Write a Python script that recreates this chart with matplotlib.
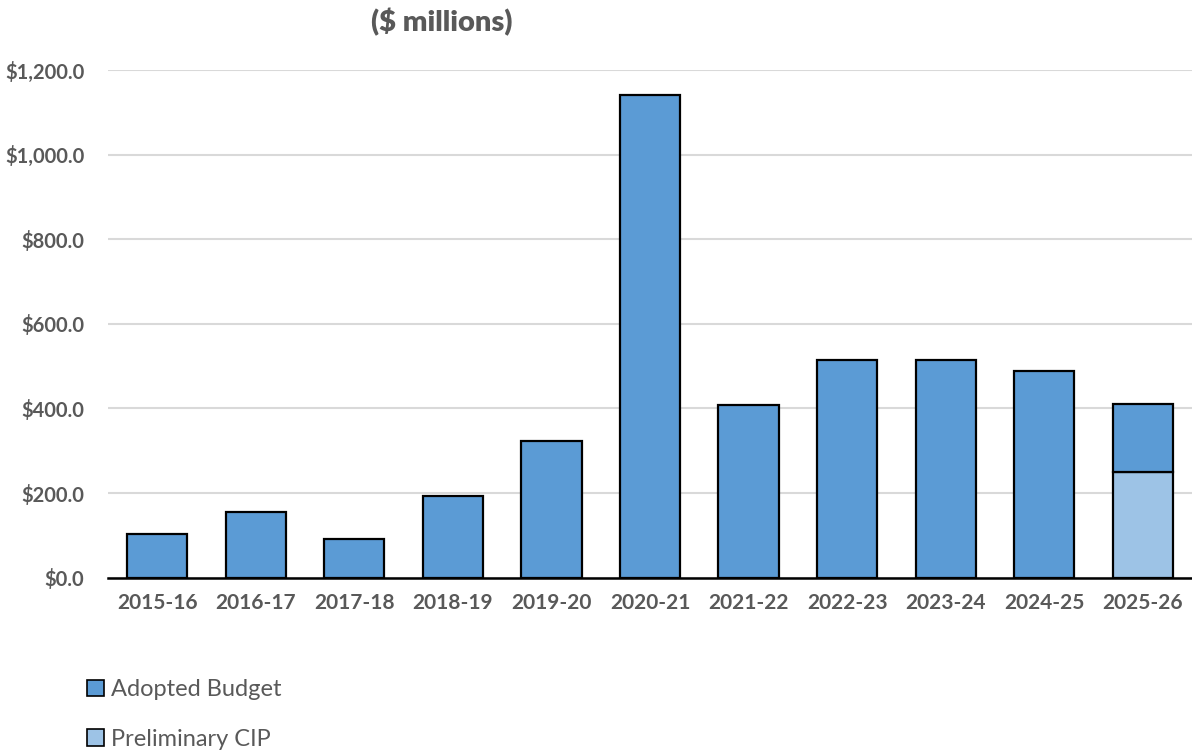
import matplotlib
matplotlib.use("Agg")
import matplotlib.pyplot as plt
from matplotlib.patches import Patch
import numpy as np

years = ["2015-16", "2016-17", "2017-18", "2018-19", "2019-20", "2020-21",
         "2021-22", "2022-23", "2023-24", "2024-25", "2025-26"]
adopted = [104, 155, 91.5, 192, 322, 1141, 408, 515, 515, 488, 160]
prelim = [0, 0, 0, 0, 0, 0, 0, 0, 0, 0, 250]
yticks = [0, 200, 400, 600, 800, 1000, 1200]

plt.rcParams['font.family'] = ['Lato', 'DejaVu Sans']
gray = "#595959"
c_adopted = "#5B9BD5"
c_prelim = "#9DC3E6"

fig = plt.figure(figsize=(11.92, 7.5), dpi=100)
ax = fig.add_axes([108/1192, 1 - 577.7/750, (1192 - 108)/1192, (577.7 - 70)/750])

x = np.arange(len(years))
w = 0.61
prelim_arr = np.array(prelim, dtype=float)
adopted_arr = np.array(adopted, dtype=float)
mask = prelim_arr > 0
ax.bar(x[mask], prelim_arr[mask], width=w, color=c_prelim, edgecolor="black", linewidth=1.6, zorder=3)
ax.bar(x, adopted_arr, bottom=prelim_arr, width=w, color=c_adopted, edgecolor="black", linewidth=1.6, zorder=3)

ax.set_xlim(-0.5, len(years) - 0.5)
ax.set_ylim(0, 1200)
ax.set_yticks(yticks)
ax.set_yticklabels([f"${v:,.1f}" for v in yticks], fontsize=14.5, fontweight="bold", color=gray)
ax.set_xticks(x)
ax.set_xticklabels(years, fontsize=15, fontweight="bold", color=gray)
ax.tick_params(axis="both", length=0)
ax.tick_params(axis="y", pad=17)
ax.tick_params(axis="x", pad=11)
ax.yaxis.grid(True, color="#d9d9d9", linewidth=1.5, zorder=0)
ax.set_axisbelow(True)
for s in ["top", "right", "left"]:
    ax.spines[s].set_visible(False)
ax.spines["bottom"].set_color("black")
ax.spines["bottom"].set_linewidth(1.8)
ax.spines["bottom"].set_zorder(4)

fig.text(442/1192, 1 - 22/750, "($ millions)", ha="center", va="center",
         fontsize=21, fontweight="heavy", color=gray)

handles = [Patch(facecolor=c_adopted, edgecolor="black", linewidth=1.2, label="Adopted Budget"),
           Patch(facecolor=c_prelim, edgecolor="black", linewidth=1.2, label="Preliminary CIP")]
leg = fig.legend(handles=handles, loc="upper left", bbox_to_anchor=(78/1192, 1 - 670/750),
                 frameon=False, fontsize=17, handlelength=0.7, handleheight=0.7,
                 handletextpad=0.3, labelspacing=1.2, borderaxespad=0)
for t in leg.get_texts():
    t.set_color(gray)

fig.savefig("out.png", dpi=100)
